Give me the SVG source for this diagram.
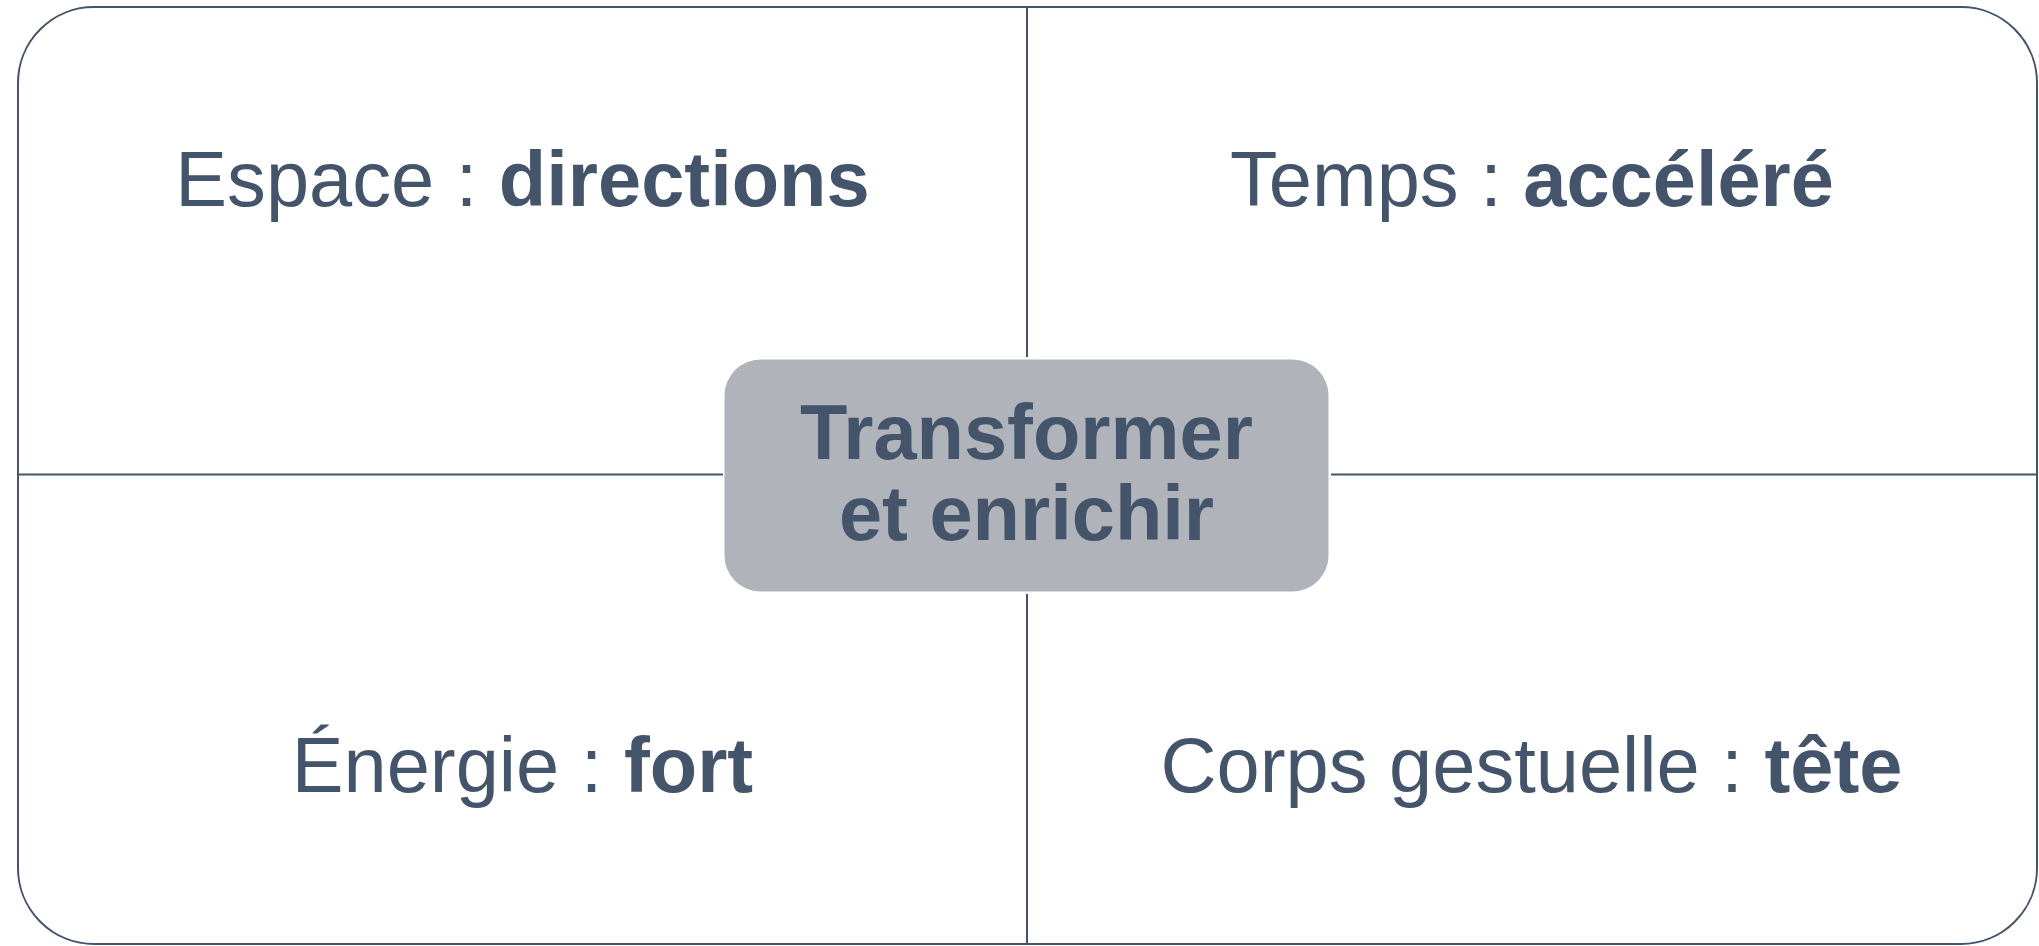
<svg xmlns="http://www.w3.org/2000/svg" width="2039" height="946" viewBox="0 0 2039 946">
<style>
.t{font-family:"Liberation Sans",Arial,sans-serif;font-size:77.6px;fill:#44546A;text-anchor:middle}
.b{font-weight:bold}
.ln{stroke:#44546A;stroke-width:2;fill:none}
</style>
<rect width="2039" height="946" fill="#FFFFFF"/>
<g id="frame"><rect x="18" y="7" width="2019" height="937" rx="76" ry="76" class="ln" stroke-width="2.2"/></g>
<g id="connectors">
<line x1="1027" y1="7" x2="1027" y2="357" class="ln"/>
<line x1="1027" y1="594" x2="1027" y2="944" class="ln"/>
<line x1="18" y1="474.5" x2="723" y2="474.5" class="ln"/>
<line x1="1331" y1="474.5" x2="2037" y2="474.5" class="ln"/>
</g>
<g id="center">
<rect x="724.5" y="359.5" width="604" height="232" rx="36" ry="36" fill="#B0B3BA"/>
<text class="t b" x="1026.5" y="459">Transformer</text>
<text class="t b" x="1026.5" y="540">et enrichir</text>
</g>
<g id="espace"><text class="t" x="522.5" y="206">Espace : <tspan class="b">directions</tspan></text></g>
<g id="temps"><text class="t" x="1532" y="206">Temps : <tspan class="b">accéléré</tspan></text></g>
<g id="energie"><text class="t" x="522.5" y="792">Énergie : <tspan class="b">fort</tspan></text></g>
<g id="corps"><text class="t" x="1531.5" y="792">Corps gestuelle : <tspan class="b">tête</tspan></text></g>
</svg>
